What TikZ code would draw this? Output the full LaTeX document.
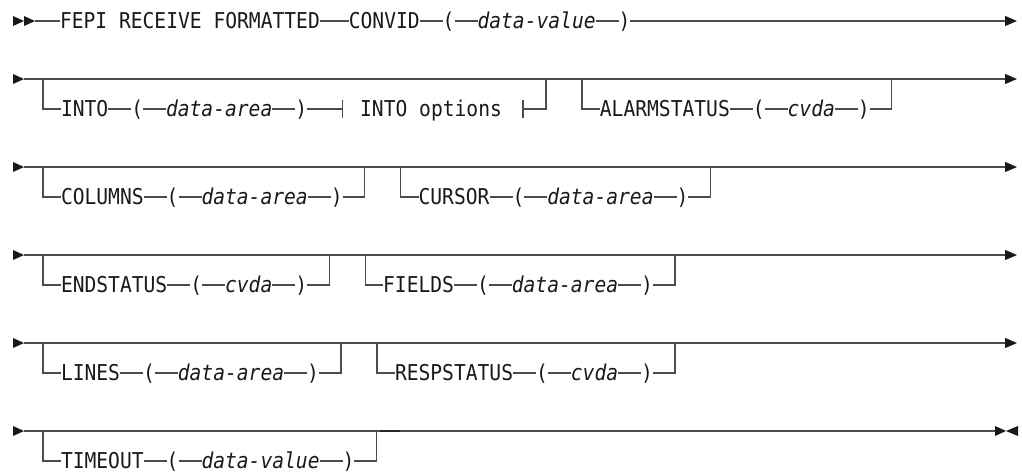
\documentclass[tikz,border=0pt]{standalone}
\usepackage{fontspec}
\setmonofont{DejaVu Sans Mono}[FakeStretch=0.9]
\usetikzlibrary{positioning,arrows.meta}

\begin{document}
\begin{tikzpicture}[x=0.5pt, y=-0.5pt,
    syn/.style={font=\fontsize{10.9}{13}\selectfont\ttfamily, inner sep=0pt, outer sep=0pt,
        text height=7.4pt, text depth=0pt, text=black!90},
    var/.style={syn, font=\fontsize{10.9}{13}\selectfont\ttfamily\itshape},
    rail/.style={draw=black!70, line width=0.6pt},
    railtip/.style={fill=black!90},
    endarrow/.style={-{Triangle[length=6pt, width=5pt, color=black!90]}},
    node distance=11.5pt]

    \useasboundingbox (0,0) rectangle (1022,471);

    % ROW 1: FEPI RECEIVE FORMATTED CONVID
    \fill[railtip] (13,16) -- (24,21) -- (13,26) -- cycle;
    \fill[railtip] (24,16) -- (35,21) -- (24,26) -- cycle;
    \coordinate (r1s) at (35,21);
    \coordinate (r1e) at (1017,21);
    \node[syn, anchor=west] (fepi) at (60,21) {FEPI RECEIVE FORMATTED};
    \node[syn, right=14.5pt of fepi] (convid) {CONVID};
    \node[syn, right=of convid] (cvlp) {(};
    \node[var, right=of cvlp] (cvval) {data-value};
    \node[syn, right=of cvval] (cvrp) {)};
    \draw[rail] (r1s) -- (fepi) (fepi) -- (convid) (convid) -- (cvlp) (cvlp) -- (cvval) (cvval) -- (cvrp);
    \draw[rail, endarrow] (cvrp) -- (r1e);

    % ROW 2: INTO, ALARMSTATUS
    \fill[railtip] (13,74) -- (24,79) -- (13,84) -- cycle;
    \coordinate (r2s) at (24,79);
    \coordinate (r2e) at (1017,79);
    \draw[rail, endarrow] (r2s) -- (r2e);
    % INTO with the options fragment
    \coordinate (intobl) at (43,109);
    \node[syn, right=9pt of intobl] (into) {INTO};
    \node[syn, right=of into] (intolp) {(};
    \node[var, right=of intolp] (intoval) {data-area};
    \node[syn, right=of intoval] (intorp) {)};
    \coordinate (intotkl) at ([xshift=17.5pt]intorp.east);
    \node[syn, right=9pt of intotkl] (intoopt) {INTO options};
    \coordinate (intotkr) at ([xshift=10.5pt]intoopt.east);
    \coordinate (intobr) at ([xshift=11.5pt]intotkr);
    \draw[rail] (intobl |- r2s) -- (intobl) -- (into);
    \draw[rail] (into) -- (intolp) (intolp) -- (intoval) (intoval) -- (intorp) (intorp) -- (intotkl);
    \draw[rail] ([yshift=4.5pt]intotkl) -- ([yshift=-4.5pt]intotkl);
    \draw[rail] ([yshift=4.5pt]intotkr) -- ([yshift=-4.5pt]intotkr);
    \draw[rail] (intotkr) -- (intobr) -- (intobr |- r2s);
    % ALARMSTATUS
    \coordinate (alarmbl) at ([xshift=18pt]intobr);
    \node[syn, right=9pt of alarmbl] (alarm) {ALARMSTATUS};
    \node[syn, right=of alarm] (alarmlp) {(};
    \node[var, right=of alarmlp] (alarmval) {cvda};
    \node[syn, right=of alarmval] (alarmrp) {)};
    \coordinate (alarmbr) at ([xshift=11pt]alarmrp.east);
    \draw[rail] (alarmbl |- r2s) -- (alarmbl) -- (alarm);
    \draw[rail] (alarm) -- (alarmlp) (alarmlp) -- (alarmval) (alarmval) -- (alarmrp) (alarmrp) -- (alarmbr) -- (alarmbr |- r2s);

    % ROW 3: COLUMNS, CURSOR
    \fill[railtip] (13,162) -- (24,167) -- (13,172) -- cycle;
    \coordinate (r3s) at (24,167);
    \coordinate (r3e) at (1017,167);
    \draw[rail, endarrow] (r3s) -- (r3e);
    % COLUMNS
    \coordinate (colbl) at (43,197);
    \node[syn, right=9pt of colbl] (col) {COLUMNS};
    \node[syn, right=of col] (collp) {(};
    \node[var, right=of collp] (colval) {data-area};
    \node[syn, right=of colval] (colrp) {)};
    \coordinate (colbr) at ([xshift=11pt]colrp.east);
    \draw[rail] (colbl |- r3s) -- (colbl) -- (col);
    \draw[rail] (col) -- (collp) (collp) -- (colval) (colval) -- (colrp) (colrp) -- (colbr) -- (colbr |- r3s);
    % CURSOR
    \coordinate (curbl) at ([xshift=18pt]colbr);
    \node[syn, right=9pt of curbl] (cur) {CURSOR};
    \node[syn, right=of cur] (curlp) {(};
    \node[var, right=of curlp] (curval) {data-area};
    \node[syn, right=of curval] (currp) {)};
    \coordinate (curbr) at ([xshift=11pt]currp.east);
    \draw[rail] (curbl |- r3s) -- (curbl) -- (cur);
    \draw[rail] (cur) -- (curlp) (curlp) -- (curval) (curval) -- (currp) (currp) -- (curbr) -- (curbr |- r3s);

    % ROW 4: ENDSTATUS, FIELDS
    \fill[railtip] (13,250) -- (24,255) -- (13,260) -- cycle;
    \coordinate (r4s) at (24,255);
    \coordinate (r4e) at (1017,255);
    \draw[rail, endarrow] (r4s) -- (r4e);
    % ENDSTATUS
    \coordinate (endbl) at (43,285);
    \node[syn, right=9pt of endbl] (endst) {ENDSTATUS};
    \node[syn, right=of endst] (endlp) {(};
    \node[var, right=of endlp] (endval) {cvda};
    \node[syn, right=of endval] (endrp) {)};
    \coordinate (endbr) at ([xshift=11pt]endrp.east);
    \draw[rail] (endbl |- r4s) -- (endbl) -- (endst);
    \draw[rail] (endst) -- (endlp) (endlp) -- (endval) (endval) -- (endrp) (endrp) -- (endbr) -- (endbr |- r4s);
    % FIELDS
    \coordinate (fldbl) at ([xshift=18pt]endbr);
    \node[syn, right=9pt of fldbl] (fld) {FIELDS};
    \node[syn, right=of fld] (fldlp) {(};
    \node[var, right=of fldlp] (fldval) {data-area};
    \node[syn, right=of fldval] (fldrp) {)};
    \coordinate (fldbr) at ([xshift=11pt]fldrp.east);
    \draw[rail] (fldbl |- r4s) -- (fldbl) -- (fld);
    \draw[rail] (fld) -- (fldlp) (fldlp) -- (fldval) (fldval) -- (fldrp) (fldrp) -- (fldbr) -- (fldbr |- r4s);

    % ROW 5: LINES, RESPSTATUS
    \fill[railtip] (13,338) -- (24,343) -- (13,348) -- cycle;
    \coordinate (r5s) at (24,343);
    \coordinate (r5e) at (1017,343);
    \draw[rail, endarrow] (r5s) -- (r5e);
    % LINES
    \coordinate (linbl) at (43,373);
    \node[syn, right=9pt of linbl] (lin) {LINES};
    \node[syn, right=of lin] (linlp) {(};
    \node[var, right=of linlp] (linval) {data-area};
    \node[syn, right=of linval] (linrp) {)};
    \coordinate (linbr) at ([xshift=11pt]linrp.east);
    \draw[rail] (linbl |- r5s) -- (linbl) -- (lin);
    \draw[rail] (lin) -- (linlp) (linlp) -- (linval) (linval) -- (linrp) (linrp) -- (linbr) -- (linbr |- r5s);
    % RESPSTATUS
    \coordinate (respbl) at ([xshift=18pt]linbr);
    \node[syn, right=9pt of respbl] (resp) {RESPSTATUS};
    \node[syn, right=of resp] (resplp) {(};
    \node[var, right=of resplp] (respval) {cvda};
    \node[syn, right=of respval] (resprp) {)};
    \coordinate (respbr) at ([xshift=11pt]resprp.east);
    \draw[rail] (respbl |- r5s) -- (respbl) -- (resp);
    \draw[rail] (resp) -- (resplp) (resplp) -- (respval) (respval) -- (resprp) (resprp) -- (respbr) -- (respbr |- r5s);

    % ROW 6: TIMEOUT and end of statement
    \fill[railtip] (13,426) -- (24,431) -- (13,436) -- cycle;
    \coordinate (r6s) at (24,431);
    \coordinate (r6e) at (995,431);
    \draw[rail] (r6s) -- (r6e);
    \fill[railtip] (995,426) -- (1006,431) -- (995,436) -- cycle;
    \fill[railtip] (1018,426) -- (1006,431) -- (1018,436) -- cycle;
    % TIMEOUT
    \coordinate (timebl) at (43,461);
    \node[syn, right=9pt of timebl] (time) {TIMEOUT};
    \node[syn, right=of time] (timelp) {(};
    \node[var, right=of timelp] (timeval) {data-value};
    \node[syn, right=of timeval] (timerp) {)};
    \coordinate (timebr) at ([xshift=11pt]timerp.east);
    \draw[rail] (timebl |- r6s) -- (timebl) -- (time);
    \draw[rail] (time) -- (timelp) (timelp) -- (timeval) (timeval) -- (timerp) (timerp) -- (timebr) -- (timebr |- r6s);
    \coordinate (timeth) at ([xshift=2pt]timebr);
    \draw[line width=1.3pt, black!85] (timeth |- r6s) -- ++(10pt,0);

\end{tikzpicture}
\end{document}
